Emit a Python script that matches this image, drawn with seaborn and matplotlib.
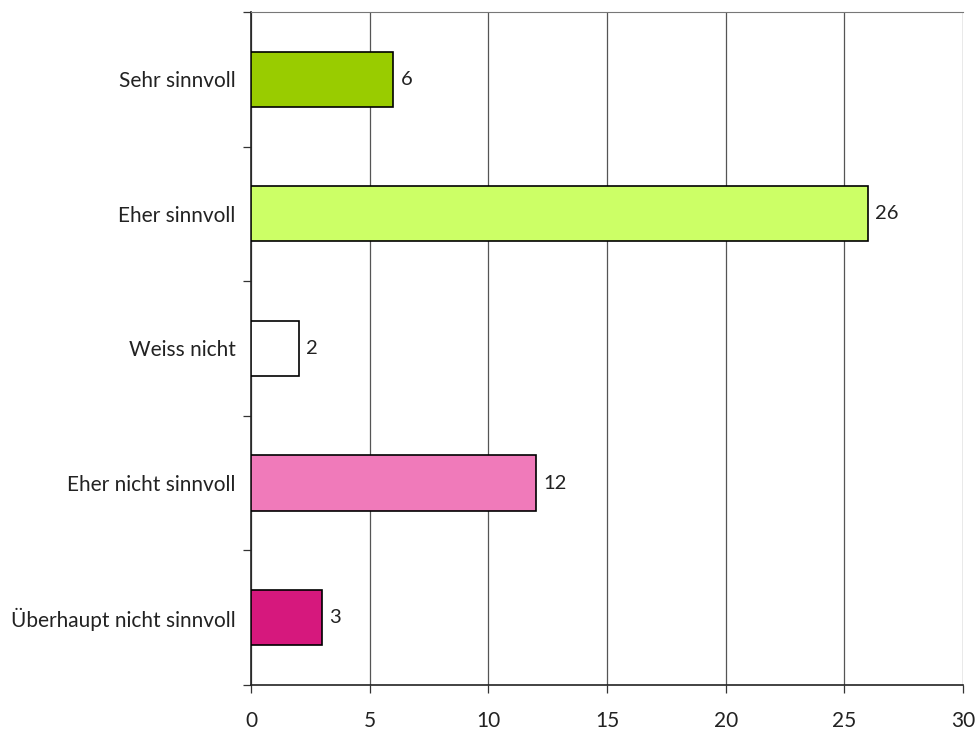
import matplotlib
matplotlib.use('Agg')
import matplotlib.pyplot as plt
import seaborn as sns
import pandas as pd

categories = ['Sehr sinnvoll', 'Eher sinnvoll', 'Weiss nicht', 'Eher nicht sinnvoll', 'Überhaupt nicht sinnvoll']
values = [6, 26, 2, 12, 3]
colors = ['#99CC00', '#CCFF66', '#FFFFFF', '#F07ABA', '#D6187D']

df = pd.DataFrame({'cat': categories, 'val': values})

sns.set_style('white')
plt.rcParams['font.family'] = ['Lato', 'DejaVu Sans']

fig = plt.figure(figsize=(9.77, 7.31), dpi=100)
ax = fig.add_axes([0.257, 0.063, 0.7287, 0.9207])

sns.barplot(data=df, x='val', y='cat', hue='cat', palette=colors, legend=False,
            saturation=1, width=0.41, edgecolor='black', linewidth=1.2, ax=ax, zorder=3)

for i, v in enumerate(values):
    ax.text(v + 0.3, i, str(v), va='center', ha='left', fontsize=14.5, color='#222222')

ax.set_xlim(0, 30)
ax.set_ylim(4.5, -0.5)
ax.set_xticks(range(0, 31, 5))
ax.set_xlabel('')
ax.set_ylabel('')
ax.grid(axis='x', color='#555555', linewidth=0.9, zorder=0)
ax.grid(axis='y', visible=False)

# tick marks at category boundaries on the y axis
ax.set_yticks([-0.5, 0.5, 1.5, 2.5, 3.5, 4.5], minor=True)
ax.tick_params(axis='y', which='minor', length=6, width=0.9, color='#333333', direction='out', left=True)
ax.tick_params(axis='y', which='major', length=0, labelsize=15, pad=11, labelcolor='#222222')
ax.tick_params(axis='x', which='major', length=6, width=0.9, color='#333333', direction='out', bottom=True,
               labelsize=15, pad=13, labelcolor='#222222')

for s in ['left', 'bottom']:
    ax.spines[s].set_color('#222222')
    ax.spines[s].set_linewidth(1.2)
ax.spines['top'].set_color('#777777')
ax.spines['right'].set_visible(False)

fig.savefig('out.png', dpi=100)
